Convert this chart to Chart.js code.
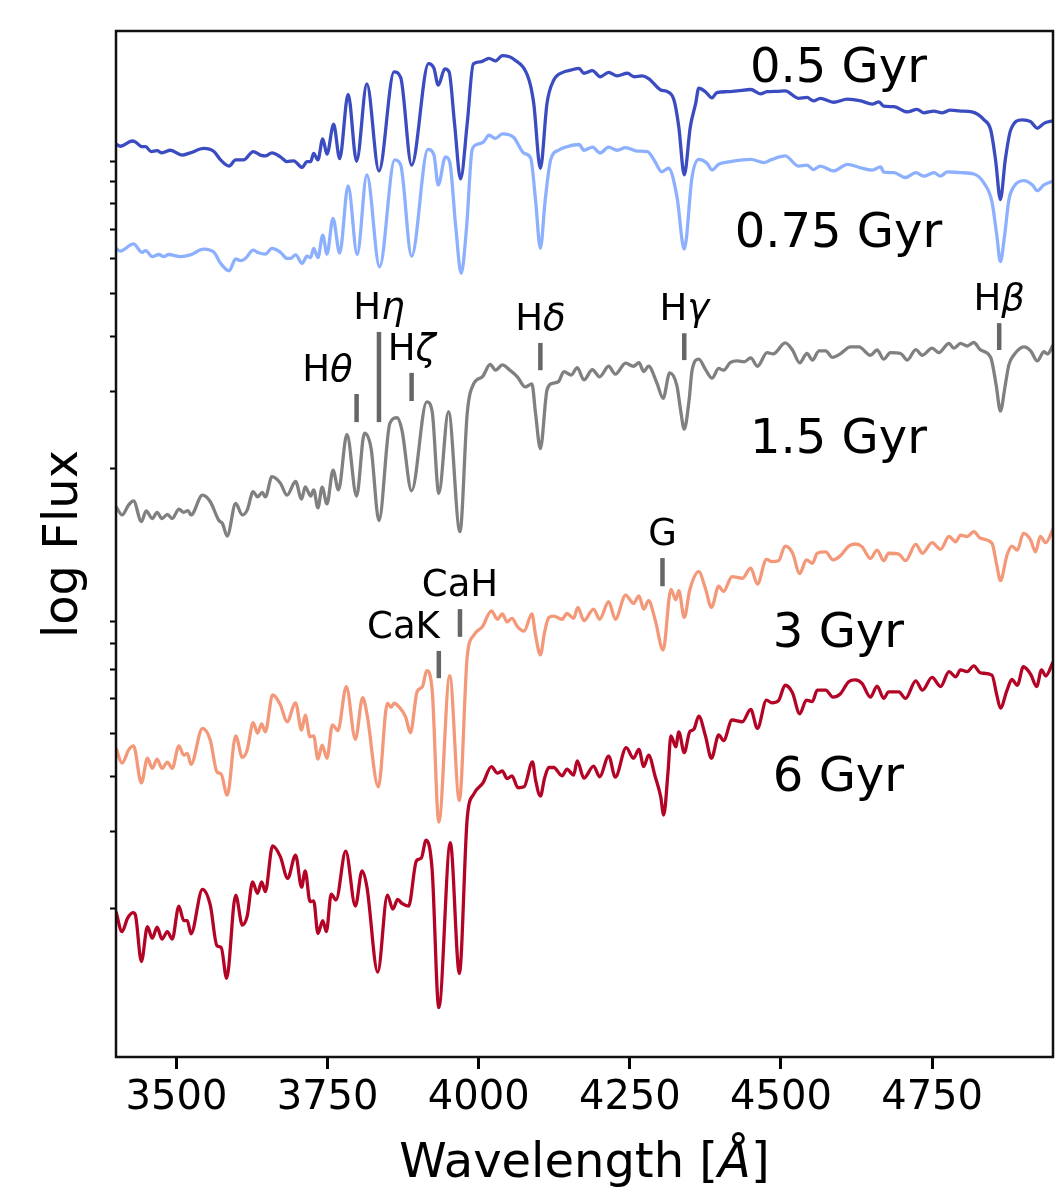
<!DOCTYPE html>
<html>
<head>
<meta charset="utf-8">
<script src="https://cdn.jsdelivr.net/npm/chart.js@4.4.0/dist/chart.umd.min.js"></script>
<style>
  html, body { margin: 0; padding: 0; background: #fff; }
  #wrap { width: 1055px; height: 1187px; position: relative; }
</style>
</head>
<body>
<div id="wrap"><canvas id="spec"></canvas></div>
<script>
// spectra: [wavelength (Angstrom), log10 flux (arbitrary zero point)]
const ages = ['0.5 Gyr', '0.75 Gyr', '1.5 Gyr', '3 Gyr', '6 Gyr'];

const spec05 = [[3400,2.075],[3407,2.070],[3427,2.082],[3432,2.080],[3443,2.069],[3449,2.069],[3458,2.058],[3468,2.060],[3476,2.055],[3490,2.061],[3509,2.050],[3523,2.055],[3545,2.065],[3562,2.058],[3573,2.039],[3587,2.025],[3598,2.039],[3611,2.039],[3627,2.058],[3639,2.050],[3647,2.048],[3658,2.055],[3672,2.046],[3683,2.035],[3694,2.037],[3708,2.022],[3716,2.035],[3722,2.035],[3727,2.054],[3734,2.039],[3742,2.087],[3749,2.052],[3760,2.120],[3770,2.042],[3784,2.188],[3798,2.036],[3815,2.212],[3835,2.014],[3860,2.239],[3871,2.226],[3889,2.027],[3917,2.258],[3926,2.247],[3933,2.209],[3944,2.246],[3951,2.239],[3960,2.122],[3970,1.996],[3981,2.122],[3991,2.257],[4003,2.262],[4017,2.270],[4028,2.264],[4039,2.276],[4058,2.268],[4083,2.222],[4091,2.168],[4102,2.020],[4113,2.168],[4124,2.220],[4141,2.239],[4152,2.243],[4166,2.247],[4174,2.236],[4188,2.242],[4201,2.228],[4215,2.238],[4229,2.230],[4246,2.236],[4257,2.228],[4270,2.230],[4281,2.224],[4301,2.198],[4312,2.194],[4323,2.175],[4331,2.114],[4340,2.005],[4350,2.114],[4359,2.168],[4364,2.202],[4375,2.194],[4386,2.180],[4394,2.192],[4411,2.194],[4428,2.196],[4450,2.199],[4466,2.189],[4477,2.194],[4494,2.195],[4507,2.196],[4529,2.179],[4543,2.181],[4554,2.173],[4565,2.179],[4587,2.170],[4610,2.177],[4632,2.173],[4651,2.166],[4662,2.171],[4670,2.161],[4687,2.160],[4709,2.148],[4725,2.154],[4736,2.146],[4753,2.150],[4767,2.146],[4780,2.152],[4797,2.150],[4816,2.148],[4836,2.130],[4847,2.107],[4855,2.039],[4863,1.949],[4871,2.039],[4880,2.107],[4899,2.130],[4913,2.126],[4924,2.111],[4935,2.122],[4950,2.128]];

const spec075 = [[3400,1.838],[3407,1.832],[3429,1.848],[3443,1.829],[3449,1.833],[3460,1.819],[3471,1.824],[3479,1.819],[3487,1.824],[3507,1.819],[3523,1.823],[3545,1.836],[3562,1.829],[3573,1.804],[3587,1.787],[3598,1.814],[3606,1.810],[3614,1.815],[3627,1.834],[3636,1.828],[3647,1.825],[3658,1.838],[3672,1.829],[3683,1.815],[3689,1.815],[3697,1.823],[3708,1.804],[3716,1.820],[3722,1.817],[3727,1.838],[3734,1.817],[3742,1.868],[3749,1.825],[3759,1.906],[3770,1.827],[3784,1.980],[3799,1.824],[3815,2.005],[3836,1.796],[3861,2.039],[3871,2.027],[3889,1.820],[3916,2.063],[3926,2.050],[3933,1.982],[3945,2.046],[3952,2.035],[3962,1.887],[3971,1.781],[3980,1.887],[3989,2.061],[3997,2.074],[4008,2.080],[4017,2.095],[4028,2.088],[4039,2.098],[4058,2.090],[4075,2.054],[4086,2.043],[4094,1.948],[4102,1.838],[4110,1.948],[4119,2.039],[4132,2.061],[4146,2.069],[4166,2.074],[4174,2.061],[4188,2.068],[4201,2.055],[4215,2.068],[4229,2.061],[4243,2.067],[4262,2.059],[4279,2.058],[4290,2.039],[4303,2.012],[4314,2.020],[4328,1.955],[4340,1.836],[4353,2.001],[4364,2.040],[4378,2.031],[4386,2.016],[4397,2.029],[4416,2.035],[4436,2.039],[4450,2.040],[4472,2.033],[4483,2.039],[4507,2.048],[4529,2.025],[4543,2.027],[4554,2.017],[4565,2.025],[4587,2.014],[4610,2.029],[4632,2.021],[4651,2.016],[4665,2.023],[4670,2.011],[4687,2.010],[4706,1.999],[4723,2.010],[4736,2.002],[4753,2.010],[4764,2.002],[4775,2.012],[4797,2.010],[4819,2.007],[4836,1.986],[4849,1.944],[4857,1.868],[4863,1.808],[4870,1.868],[4877,1.948],[4885,1.978],[4902,1.992],[4916,1.982],[4924,1.969],[4935,1.982],[4950,1.991]];

const spec15 = [[3400,1.251],[3410,1.232],[3421,1.255],[3429,1.264],[3442,1.217],[3450,1.241],[3460,1.224],[3468,1.238],[3476,1.224],[3485,1.233],[3493,1.224],[3504,1.245],[3512,1.238],[3519,1.242],[3524,1.232],[3543,1.277],[3556,1.262],[3570,1.220],[3576,1.213],[3584,1.184],[3598,1.258],[3609,1.232],[3617,1.243],[3627,1.285],[3634,1.273],[3642,1.283],[3647,1.273],[3658,1.319],[3672,1.304],[3683,1.277],[3697,1.308],[3707,1.268],[3713,1.296],[3722,1.275],[3727,1.289],[3734,1.248],[3741,1.295],[3749,1.257],[3759,1.334],[3768,1.289],[3782,1.415],[3798,1.275],[3811,1.418],[3822,1.383],[3835,1.219],[3853,1.440],[3865,1.453],[3873,1.425],[3889,1.287],[3914,1.489],[3923,1.467],[3934,1.281],[3950,1.467],[3969,1.194],[3981,1.463],[3992,1.531],[4006,1.546],[4019,1.574],[4028,1.561],[4039,1.573],[4050,1.563],[4064,1.546],[4077,1.523],[4088,1.530],[4094,1.463],[4102,1.383],[4113,1.516],[4122,1.531],[4132,1.535],[4141,1.558],[4153,1.550],[4163,1.567],[4174,1.539],[4188,1.562],[4200,1.546],[4215,1.570],[4226,1.552],[4243,1.577],[4256,1.570],[4265,1.578],[4273,1.558],[4281,1.570],[4295,1.531],[4305,1.497],[4316,1.555],[4328,1.525],[4334,1.470],[4340,1.427],[4348,1.493],[4353,1.561],[4364,1.586],[4375,1.563],[4386,1.543],[4397,1.565],[4405,1.561],[4416,1.578],[4428,1.582],[4439,1.580],[4450,1.589],[4461,1.570],[4477,1.601],[4487,1.598],[4507,1.623],[4519,1.607],[4531,1.578],[4543,1.599],[4552,1.584],[4563,1.605],[4574,1.605],[4585,1.590],[4598,1.598],[4615,1.614],[4629,1.614],[4648,1.595],[4659,1.607],[4670,1.586],[4681,1.601],[4698,1.599],[4709,1.584],[4723,1.608],[4734,1.595],[4750,1.611],[4761,1.601],[4778,1.622],[4786,1.611],[4797,1.622],[4808,1.616],[4819,1.624],[4830,1.607],[4847,1.590],[4856,1.527],[4863,1.468],[4871,1.527],[4877,1.573],[4885,1.595],[4902,1.614],[4913,1.605],[4924,1.582],[4935,1.603],[4941,1.598],[4950,1.618]];

const spec3 = [[3400,0.702],[3410,0.668],[3421,0.698],[3429,0.707],[3442,0.623],[3452,0.679],[3460,0.656],[3468,0.677],[3476,0.656],[3485,0.670],[3493,0.656],[3504,0.707],[3512,0.686],[3518,0.690],[3524,0.665],[3543,0.747],[3556,0.720],[3567,0.648],[3574,0.643],[3584,0.595],[3598,0.730],[3609,0.681],[3617,0.698],[3627,0.760],[3634,0.736],[3641,0.757],[3647,0.739],[3659,0.823],[3672,0.800],[3683,0.762],[3697,0.805],[3707,0.743],[3713,0.777],[3721,0.728],[3727,0.730],[3734,0.677],[3741,0.709],[3749,0.679],[3758,0.755],[3767,0.742],[3781,0.842],[3796,0.722],[3808,0.817],[3815,0.781],[3834,0.614],[3849,0.804],[3855,0.795],[3860,0.804],[3868,0.796],[3879,0.773],[3887,0.737],[3898,0.830],[3907,0.842],[3914,0.878],[3923,0.834],[3934,0.534],[3952,0.867],[3968,0.583],[3981,0.910],[3992,0.959],[4006,0.978],[4021,1.014],[4031,0.995],[4039,1.007],[4047,0.989],[4055,0.997],[4064,0.978],[4075,0.968],[4088,1.007],[4094,0.959],[4102,0.914],[4109,0.966],[4116,0.999],[4124,1.002],[4138,0.995],[4146,1.008],[4157,0.997],[4164,1.022],[4174,0.992],[4190,1.018],[4200,0.995],[4215,1.035],[4226,0.995],[4243,1.050],[4256,1.031],[4265,1.048],[4273,1.018],[4281,1.037],[4292,0.993],[4305,0.925],[4318,1.063],[4326,1.039],[4331,1.060],[4340,0.999],[4349,1.061],[4364,1.103],[4375,1.065],[4385,1.022],[4397,1.070],[4405,1.058],[4419,1.092],[4436,1.088],[4450,1.111],[4461,1.075],[4476,1.131],[4485,1.126],[4496,1.128],[4507,1.161],[4519,1.146],[4531,1.099],[4542,1.130],[4552,1.122],[4560,1.145],[4574,1.148],[4586,1.130],[4598,1.139],[4612,1.161],[4623,1.166],[4634,1.160],[4648,1.133],[4659,1.152],[4670,1.128],[4678,1.145],[4695,1.143],[4706,1.128],[4723,1.165],[4734,1.145],[4750,1.169],[4764,1.154],[4778,1.183],[4789,1.171],[4797,1.186],[4808,1.183],[4819,1.194],[4830,1.179],[4849,1.168],[4857,1.118],[4863,1.083],[4874,1.141],[4882,1.161],[4891,1.152],[4901,1.190],[4913,1.175],[4921,1.148],[4929,1.183],[4938,1.169],[4950,1.200]];

const spec6 = [[3400,0.330],[3410,0.285],[3419,0.315],[3428,0.328],[3432,0.323],[3442,0.217],[3452,0.296],[3460,0.270],[3468,0.295],[3476,0.268],[3485,0.285],[3493,0.268],[3504,0.343],[3512,0.310],[3518,0.310],[3524,0.280],[3543,0.381],[3556,0.345],[3567,0.253],[3574,0.249],[3583,0.179],[3598,0.368],[3609,0.300],[3617,0.320],[3626,0.398],[3634,0.372],[3641,0.398],[3647,0.376],[3659,0.480],[3672,0.455],[3684,0.406],[3697,0.459],[3707,0.386],[3713,0.423],[3721,0.353],[3727,0.355],[3734,0.281],[3742,0.310],[3748,0.285],[3756,0.370],[3764,0.357],[3780,0.468],[3796,0.343],[3807,0.423],[3815,0.387],[3833,0.193],[3849,0.368],[3858,0.336],[3866,0.358],[3873,0.349],[3884,0.343],[3897,0.446],[3905,0.452],[3913,0.493],[3923,0.425],[3934,0.112],[3953,0.487],[3968,0.190],[3981,0.543],[3992,0.598],[4007,0.623],[4021,0.660],[4031,0.645],[4039,0.650],[4047,0.633],[4055,0.639],[4065,0.612],[4075,0.614],[4089,0.671],[4094,0.630],[4102,0.593],[4109,0.634],[4116,0.658],[4124,0.658],[4138,0.639],[4146,0.654],[4157,0.641],[4163,0.673],[4174,0.634],[4190,0.661],[4200,0.637],[4215,0.684],[4226,0.636],[4244,0.703],[4256,0.679],[4265,0.699],[4273,0.660],[4281,0.686],[4292,0.637],[4301,0.592],[4306,0.550],[4313,0.645],[4318,0.730],[4326,0.705],[4331,0.739],[4340,0.692],[4349,0.739],[4356,0.745],[4364,0.775],[4375,0.730],[4385,0.679],[4397,0.732],[4405,0.719],[4419,0.766],[4436,0.762],[4450,0.790],[4461,0.747],[4476,0.811],[4485,0.805],[4496,0.810],[4507,0.845],[4519,0.828],[4531,0.780],[4542,0.811],[4552,0.808],[4560,0.834],[4574,0.834],[4586,0.818],[4598,0.825],[4612,0.853],[4623,0.857],[4634,0.849],[4648,0.818],[4659,0.843],[4670,0.815],[4678,0.830],[4695,0.830],[4706,0.815],[4723,0.855],[4734,0.834],[4750,0.863],[4764,0.842],[4778,0.876],[4789,0.864],[4797,0.880],[4808,0.876],[4819,0.889],[4830,0.873],[4849,0.868],[4857,0.823],[4863,0.793],[4874,0.834],[4882,0.858],[4891,0.845],[4901,0.887],[4913,0.870],[4923,0.842],[4931,0.880],[4938,0.866],[4950,0.898]];

// absorption features
const lineNames = ['Hθ', 'Hη', 'Hζ', 'Hδ', 'Hγ', 'Hβ', 'G', 'CaK', 'CaH'];
const lineWaves = [3798, 3835, 3889, 4102, 4340, 4861, 4304, 3934, 3969];

const xTicks = [3500, 3750, 4000, 4250, 4500, 4750];
const yTickMult = [0.2, 0.3, 0.4, 0.5, 0.6, 0.7, 0.8, 0.9, 2, 3, 4, 5, 6, 7, 8, 9, 10];

const FONT = "'DejaVu Sans', sans-serif";
const colors = ['#3b4cc0', '#8db0fe', '#808080', '#f4987a', '#b40426'];
const series = [spec05, spec075, spec15, spec3, spec6];
const decade0 = 1.036;   // where flux = 1 sits on the log axis

// where the text / bars go (log-flux units)
const ageLabelWave = 4595;
const ageLabelY = [2.216, 1.841, 1.373, 0.932, 0.605];
const markerSpan = [[1.443, 1.507], [1.443, 1.648], [1.491, 1.555], [1.561, 1.623], [1.584, 1.645],
                    [1.607, 1.668], [1.070, 1.134], [0.861, 0.923], [0.955, 1.018]];
const markerAlign = ['right', 'center', 'center', 'center', 'center', 'center', 'center', 'right', 'center'];
const markerShift = [-4, 0, 0, 0, 0, 0, 0, 1, 0];

function drawMixed(ctx, text, x, y, align, size) {
  // "H" upright, greek letter oblique like mathtext
  let parts = [[text, false]];
  if (/^H[^A-Za-z]/.test(text)) parts = [['H', false], [text.slice(1), true]];
  const fontOf = it => (it ? 'italic ' : '') + size + 'px ' + FONT;
  let w = 0;
  parts.forEach(p => { ctx.font = fontOf(p[1]); w += ctx.measureText(p[0]).width; });
  let cx = align === 'right' ? x - w : (align === 'center' ? x - w / 2 : x);
  ctx.textAlign = 'left';
  ctx.textBaseline = 'alphabetic';
  parts.forEach(p => {
    ctx.font = fontOf(p[1]);
    ctx.fillText(p[0], cx, y);
    cx += ctx.measureText(p[0]).width;
  });
}

const overlay = {
  id: 'overlay',
  afterDatasetsDraw(chart) {
    const { ctx, scales: { x, y } } = chart;
    ctx.save();
    ctx.fillStyle = '#000';

    // line markers
    lineNames.forEach((name, i) => {
      const px = x.getPixelForValue(lineWaves[i]);
      const yb = y.getPixelForValue(markerSpan[i][0]);
      const yt = y.getPixelForValue(markerSpan[i][1]);
      ctx.strokeStyle = '#666';
      ctx.lineWidth = 4.5;
      ctx.lineCap = 'butt';
      ctx.beginPath();
      ctx.moveTo(px, yb);
      ctx.lineTo(px, yt);
      ctx.stroke();
      drawMixed(ctx, name, px + markerShift[i], yt - 13, markerAlign[i], 37);
    });

    // age labels
    ctx.font = '48px ' + FONT;
    ctx.textAlign = 'center';
    ctx.textBaseline = 'alphabetic';
    ages.forEach((a, i) => {
      ctx.fillText(a, x.getPixelForValue(ageLabelWave), y.getPixelForValue(ageLabelY[i]));
    });
    ctx.restore();
  },
  afterDraw(chart) {
    const { ctx, chartArea: a } = chart;
    ctx.save();
    ctx.strokeStyle = '#111';
    ctx.lineWidth = 2.5;
    ctx.strokeRect(a.left, a.top, a.right - a.left, a.bottom - a.top);

    // x-axis title with italic Angstrom sign
    ctx.fillStyle = '#000';
    const cx = (a.left + a.right) / 2;
    ctx.font = '48px ' + FONT;
    const w1 = ctx.measureText('Wavelength [').width;
    const w3 = ctx.measureText(']').width;
    ctx.font = 'italic 48px ' + FONT;
    const w2 = ctx.measureText('Å').width;
    let sx = cx - (w1 + w2 + w3) / 2;
    ctx.textAlign = 'left';
    ctx.textBaseline = 'alphabetic';
    ctx.font = '48px ' + FONT;
    ctx.fillText('Wavelength [', sx, 1177);
    ctx.font = 'italic 48px ' + FONT;
    ctx.fillText('Å', sx + w1, 1177);
    ctx.font = '48px ' + FONT;
    ctx.fillText(']', sx + w1 + w2, 1177);
    ctx.restore();
  }
};

const ctx = document.getElementById('spec').getContext('2d');
new Chart(ctx, {
  type: 'line',
  data: {
    datasets: series.map((s, i) => ({
      label: ages[i],
      data: s.map(p => ({ x: p[0], y: p[1] })),
      borderColor: colors[i],
      borderWidth: 3.3,
      pointRadius: 0,
      fill: false,
      cubicInterpolationMode: 'monotone'
    }))
  },
  options: {
    responsive: true,
    maintainAspectRatio: false,
    animation: false,
    events: [],
    layout: { padding: { top: 31, right: 2, left: 0, bottom: 0 } },
    scales: {
      x: {
        type: 'linear',
        min: 3400,
        max: 4950,
        afterBuildTicks: s => { s.ticks = xTicks.map(v => ({ value: v })); },
        afterFit: s => { s.height = 130; },
        ticks: {
          callback: v => String(v),
          color: '#000',
          font: { family: FONT, size: 40, lineHeight: 1 },
          padding: 10,
          maxRotation: 0,
          autoSkip: false
        },
        grid: { display: true, drawOnChartArea: false, drawTicks: true, tickLength: 12, tickWidth: 3, tickColor: '#000' },
        border: { display: false }
      },
      y: {
        type: 'linear',
        min: 0,
        max: 2.332,
        afterBuildTicks: s => { s.ticks = yTickMult.map(m => ({ value: decade0 + Math.log10(m) })); },
        afterFit: s => { s.width = 116; },
        ticks: { display: false },
        grid: { display: true, drawOnChartArea: false, drawTicks: true, tickLength: 6, tickWidth: 2, tickColor: '#000' },
        border: { display: false },
        title: {
          display: true,
          text: 'log Flux',
          color: '#000',
          font: { family: FONT, size: 48, lineHeight: 1 },
          padding: { top: 41, bottom: 0 }
        }
      }
    },
    plugins: {
      legend: { display: false },
      tooltip: { enabled: false }
    }
  },
  plugins: [overlay]
});
</script>
</body>
</html>
